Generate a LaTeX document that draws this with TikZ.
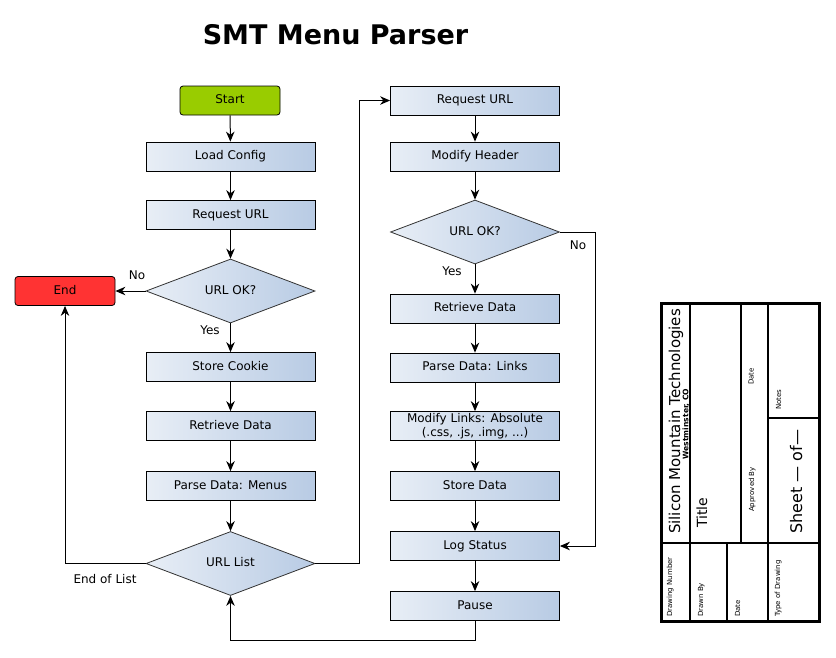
\documentclass[tikz,border=0pt]{standalone}
\usepackage{fontspec}
\setmainfont{DejaVu Sans}
\usetikzlibrary{shapes.geometric,arrows.meta}
\definecolor{gL}{HTML}{E8EEF6}
\definecolor{gR}{HTML}{B8CBE4}
\definecolor{startc}{HTML}{99CC00}
\definecolor{endc}{HTML}{FF3333}
\begin{document}
\begin{tikzpicture}[x=1pt,y=-1pt,
  base/.style={font=\fontsize{12}{14}\selectfont, text height=8.7pt, text depth=2.3pt, inner sep=0pt},
  proc/.style={base, draw=black, line width=0.8pt, rectangle, minimum width=169pt, minimum height=29pt, left color=gL, right color=gR},
  term/.style={base, draw=black, line width=0.8pt, rectangle, rounded corners=3pt, minimum width=100pt, minimum height=29pt},
  decision/.style={base, draw=black!80, line width=0.8pt, diamond, aspect=2.6, minimum width=169pt, minimum height=64pt, left color=gL, right color=gR},
  arr/.style={line width=1pt, -{Stealth[length=10pt,width=8.5pt]}},
  lbl/.style={font=\fontsize{12}{14}\selectfont, inner sep=0pt},
  tb/.style={line width=2pt},
  tbsmall/.style={font=\fontsize{7}{8}\selectfont, rotate=90, anchor=base west, inner sep=0pt}
]
\useasboundingbox (0,0) rectangle (836,657);

% title
\node[font=\fontsize{27}{30}\selectfont\bfseries] (title) at (335.5,35) {SMT Menu Parser};

% left column
\node[term, fill=startc] (start) at (230,100.5) {Start};
\node[proc] (load) at (230.5,156.5) {Load Config};
\node[proc] (req1) at (230.5,215) {Request URL};
\node[decision] (ok1) at (230.5,291) {URL OK?};
\node[term, fill=endc] (end) at (65,291) {End};
\node[proc] (cookie) at (230.5,367) {Store Cookie};
\node[proc] (ret1) at (230.5,426) {Retrieve Data};
\node[proc] (menus) at (230.5,486) {Parse Data: Menus};
\node[decision] (list) at (230.5,563.5) {URL List};

% right column
\node[proc] (req2) at (475,100.5) {Request URL};
\node[proc] (hdr) at (475,156.5) {Modify Header};
\node[decision] (ok2) at (475,232) {URL OK?};
\node[proc] (ret2) at (475,308.5) {Retrieve Data};
\node[proc] (links) at (475,367.5) {Parse Data: Links};
\node[proc, align=center, text height=, text depth=] (mod) at (475,426) {Modify Links: Absolute\\(.css, .js, .img, ...)};
\node[proc] (store) at (475,486) {Store Data};
\node[proc] (log) at (475,546) {Log Status};
\node[proc] (pause) at (475,606) {Pause};

% helper coordinates
\coordinate (jr) at (359,100.5);
\coordinate (jn) at (595,232);
\coordinate (jb) at (475,640);

% connectors left
\draw[arr] (start) -- (load);
\draw[arr] (load) -- (req1);
\draw[arr] (req1) -- (ok1);
\draw[arr] (ok1.west) -- (end.east);
\draw[arr] (ok1.south) -- (cookie.north);
\draw[arr] (cookie) -- (ret1);
\draw[arr] (ret1) -- (menus);
\draw[arr] (menus) -- (list);
\draw[arr] (list.west) -| (end.south);
\draw[arr] (list.east) -| (jr) -- (req2.west);

% connectors right
\draw[arr] (req2) -- (hdr);
\draw[arr] (hdr) -- (ok2);
\draw[arr] (ok2.south) -- (ret2.north);
\draw[arr] (ret2) -- (links);
\draw[arr] (links) -- (mod);
\draw[arr] (mod) -- (store);
\draw[arr] (store) -- (log);
\draw[arr] (log) -- (pause);
\draw[arr] (ok2.east) -- (jn) |- (log.east);
\draw[arr] (pause.south) -- (jb) -| (list.south);

% labels
\node[lbl] (lno1) at (137,275) {No};
\node[lbl] (lyes1) at (210,330) {Yes};
\node[lbl] (leol) at (105,579) {End of List};
\node[lbl] (lyes2) at (452,271) {Yes};
\node[lbl] (lno2) at (578,245) {No};

% title block
\draw[tb] (690,303) -- (690,621);
\draw[tb] (768,303) -- (768,621);
\draw[tb] (741,303) -- (741,543);
\draw[tb] (727,543) -- (727,621);
\draw[tb] (661,543) -- (819,543);
\draw[tb] (768,418) -- (819,418);
\draw[line width=3pt] (661,303) rectangle (819,621);

\node[font=\fontsize{15}{17}\selectfont, rotate=90, anchor=base, inner sep=0pt] (co) at (680,421.5) {Silicon Mountain Technologies};
\node[font=\fontsize{7.6}{9}\selectfont\bfseries, rotate=90, anchor=base, inner sep=0pt] (loc) at (688.3,424) {Westminster, CO};
\node[font=\fontsize{14}{16}\selectfont, rotate=90, anchor=base west, inner sep=0pt] (ttl) at (707,528) {Title};
\node[tbsmall] (appr) at (754,512) {Approved By};
\node[tbsmall] (date1) at (753.5,385) {Date};
\node[tbsmall] (notes) at (781,410) {Notes};
\node[font=\fontsize{16}{18}\selectfont, rotate=90, anchor=base, inner sep=0pt] (sheet) at (802,481.5) {Sheet — of—};
\node[tbsmall] (dnum) at (672,617) {Drawing Number};
\node[tbsmall] (dby) at (703,617) {Drawn By};
\node[tbsmall] (date2) at (740,617) {Date};
\node[tbsmall] (tod) at (780,617) {Type of Drawing};
\end{tikzpicture}
\end{document}
